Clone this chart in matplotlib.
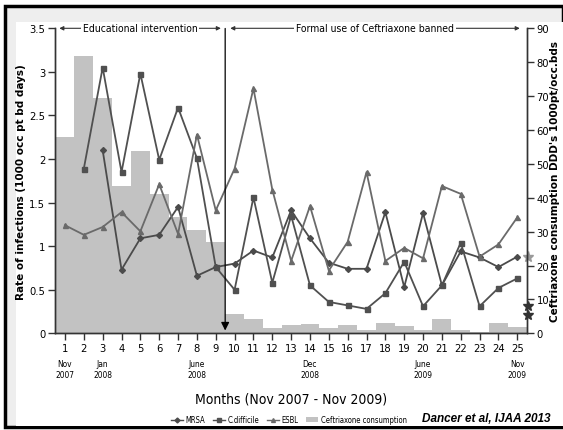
import numpy as np
import matplotlib
matplotlib.use('Agg')
import matplotlib.pyplot as plt
from matplotlib import font_manager
from matplotlib.patches import Rectangle
from matplotlib.lines import Line2D
from matplotlib.patches import Patch

nan = np.nan

months = list(range(1, 26))
month_notes = {1: 'Nov\n2007', 3: 'Jan\n2008', 8: 'June\n2008',
               14: 'Dec\n2008', 20: 'June\n2009', 25: 'Nov\n2009'}

mrsa = [nan, nan, 2.10, 0.73, 1.09, 1.13, 1.45, 0.66, 0.76, 0.80, 0.95, 0.87, 1.41,
        1.09, 0.81, 0.74, 0.74, 1.39, 0.53, 1.38, 0.55, 0.94, 0.87, 0.76, 0.88]
cdiff = [nan, 1.89, 3.05, 1.85, 2.98, 1.99, 2.59, 2.01, 0.76, 0.50, 1.56, 0.58, 1.35,
         0.55, 0.36, 0.32, 0.28, 0.46, 0.82, 0.31, 0.55, 1.04, 0.31, 0.52, 0.63]
esbl = [1.24, 1.13, 1.22, 1.39, 1.17, 1.71, 1.14, 2.28, 1.41, 1.89, 2.81, 1.65, 0.83,
        1.46, 0.72, 1.05, 1.85, 0.83, 0.98, 0.86, 1.69, 1.60, 0.88, 1.02, 1.33]
ceftriaxone = [57.9, 81.8, 69.4, 43.5, 53.8, 41.0, 34.2, 30.4, 26.9, 5.6, 4.1, 1.7, 2.5,
               2.7, 1.7, 2.4, 0.9, 2.9, 2.2, 1.0, 4.1, 1.0, 0.3, 2.9, 2.0]

# reference marks drawn just outside the right axis
ref_stars_light = [22.4]
ref_stars_dark = [8.1, 5.4]

# a narrow face for the tick texts if one is installed
narrow = 'DejaVu Sans'
narrow_stretch = 'normal'
for f in font_manager.fontManager.ttflist:
    if f.name == 'Liberation Sans Narrow':
        narrow, narrow_stretch = f.name, 'normal'
        break
    if f.name == 'DejaVu Sans' and f.stretch == 'condensed':
        narrow_stretch = 'condensed'
nfont = dict(fontfamily=narrow, fontstretch=narrow_stretch)

W, H = 563, 431
fig = plt.figure(figsize=(W / 100, H / 100), dpi=100)
fig.patch.set_facecolor('white')

# outer grey frame with black border, white inner panel
fig.patches.append(Rectangle((5 / W, 3 / H), 1 - 5 / W, 1 - 10 / H, transform=fig.transFigure,
                             facecolor='#eeeeee', edgecolor='black', linewidth=2.5, zorder=-10))
fig.patches.append(Rectangle((16 / W, 4 / H), 1 - 16 / W, 1 - 27 / H, transform=fig.transFigure,
                             facecolor='white', edgecolor='none', zorder=-9))

ax = fig.add_axes([55 / W, 1 - 334.3 / H, (526.7 - 55) / W, (334.3 - 29.3) / H])
ax.set_facecolor('none')
ax2 = ax.twinx()
ax.set_zorder(2)
ax2.set_zorder(1)

bar_col = '#c2c2c2'
ax2.bar(months, ceftriaxone, width=1.0, color=bar_col, linewidth=0)
ax2.set_ylim(0, 90)

line_kw = dict(linewidth=1.3, markersize=3.6)
ax.plot(months, mrsa, color='#4b4b4b', marker='D', markersize=3.0, linewidth=1.3)
ax.plot(months, cdiff, color='#505050', marker='s', **line_kw)
ax.plot(months, esbl, color='#6a6a6a', marker='^', **line_kw)

ax.set_xlim(0.47, 25.5)
ax.set_ylim(0, 3.5)
ax2.set_xlim(0.47, 25.5)

for a in (ax, ax2):
    a.spines['top'].set_visible(False)
    for s in ('left', 'right', 'bottom'):
        a.spines[s].set_linewidth(1.0)
        a.spines[s].set_color('#333333')

ax.set_xticks(months)
ax.set_xticklabels([str(m) for m in months], fontsize=8, **nfont)
ax.set_yticks(np.arange(0, 3.51, 0.5))
ax.set_yticklabels(['0', '0.5', '1', '1.5', '2', '2.5', '3', '3.5'], fontsize=8, **nfont)
ax2.set_yticks(range(0, 91, 10))
ax2.set_yticklabels([str(v) for v in range(0, 91, 10)], fontsize=8, **nfont)
ax.tick_params(axis='both', length=5, width=1.0, color='#333333', pad=2)
ax2.tick_params(axis='y', length=5, width=1.0, color='#333333', pad=2)

for m, note in month_notes.items():
    ax.text(m, -0.118, note, transform=ax.get_xaxis_transform(), ha='center', va='center',
            fontsize=6, linespacing=1.3, **nfont)

ax.set_ylabel('Rate of infections (1000 occ pt bd days)', fontsize=7.5, fontweight='bold',
              labelpad=2)
ax2.set_ylabel("Ceftriaxone consumption DDD's 1000pt/occ.bds", fontsize=7.5, fontweight='bold',
               labelpad=1)
ax.set_xlabel('Months (Nov 2007 - Nov 2009)', fontsize=10, labelpad=28, **nfont)

# period annotations
arrow_kw = dict(arrowstyle='<|-|>', color='#333333', lw=0.8, mutation_scale=6)
ax.annotate('', xy=(0.55, 3.5), xytext=(9.42, 3.5), arrowprops=arrow_kw, annotation_clip=False)
ax.annotate('', xy=(9.62, 3.5), xytext=(25.28, 3.5), arrowprops=arrow_kw, annotation_clip=False)
ax.text(4.98, 3.5, 'Educational intervention', ha='center', va='center',
        fontsize=7.5, bbox=dict(facecolor='white', edgecolor='none', pad=1.2), **nfont)
ax.text(17.45, 3.5, 'Formal use of Ceftriaxone banned', ha='center', va='center',
        fontsize=7.5, bbox=dict(facecolor='white', edgecolor='none', pad=1.2), **nfont)

ax.annotate('', xy=(9.5, 0.0), xytext=(9.5, 3.53),
            arrowprops=dict(arrowstyle='-|>', color='black', lw=0.9, mutation_scale=12),
            annotation_clip=False)

ax2.plot([25.57] * len(ref_stars_light), ref_stars_light, linestyle='none', marker='*',
         markersize=8, color='#9a9a9a', clip_on=False)
ax2.plot([25.57] * len(ref_stars_dark), ref_stars_dark, linestyle='none', marker='*',
         markersize=7, color='#333333', clip_on=False)

handles = [Line2D([], [], color='#4b4b4b', marker='D', markersize=2.5, lw=1.0),
           Line2D([], [], color='#505050', marker='s', markersize=2.8, lw=1.0),
           Line2D([], [], color='#6a6a6a', marker='^', markersize=2.8, lw=1.0),
           Patch(facecolor=bar_col, edgecolor='none')]
fig.legend(handles, ['MRSA', 'C.difficile', 'ESBL', 'Ceftriaxone consumption'],
           loc='center', bbox_to_anchor=(289 / W, 1 - 421 / H), ncol=4, frameon=False,
           prop={'family': narrow, 'stretch': narrow_stretch, 'size': 5.5},
           handlelength=1.6, handletextpad=0.3, columnspacing=1.0, handleheight=0.6)

fig.text(550 / W, 1 - 419 / H, 'Dancer et al, IJAA 2013', ha='right', va='center',
         fontfamily='Liberation Sans', fontsize=8.5, fontweight='bold', fontstyle='italic')

fig.savefig('out.png', dpi=100, facecolor='white')
